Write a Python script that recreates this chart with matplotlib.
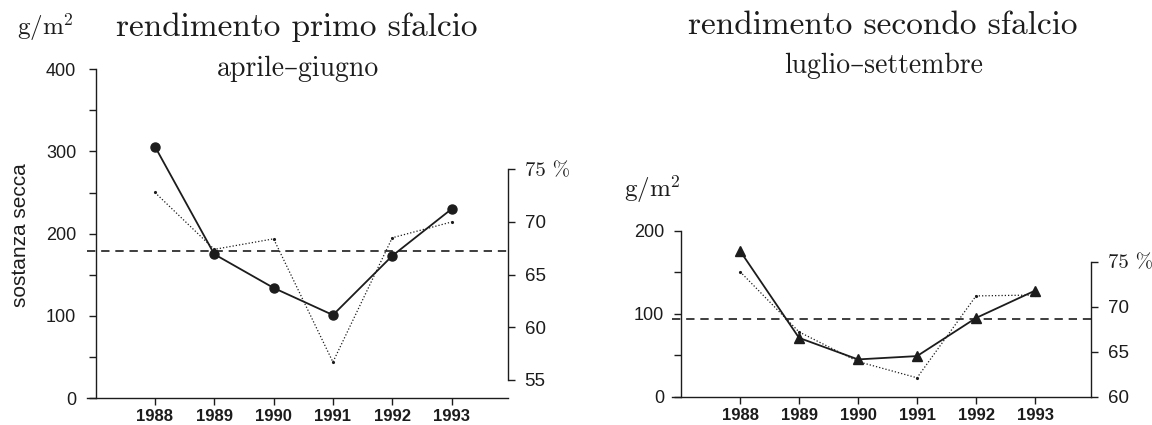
"""rendimento primo / secondo sfalcio, 1988-1993.

two panels, same layout:
  - solid line + markers: sostanza secca (g/m2, left axis)
  - dotted line: percentuale (short right axis)
  - dashed line: reference level across the panel (left-axis units)
"""
import matplotlib
matplotlib.use("Agg")
import matplotlib.pyplot as plt
from matplotlib.ticker import FixedLocator

plt.rcParams["font.family"] = ["Liberation Sans", "DejaVu Sans"]
plt.rcParams["mathtext.fontset"] = "cm"

SERIF = ["cmr10", "DejaVu Serif"]
INK = "#1c1c1c"

YEARS = [1988, 1989, 1990, 1991, 1992, 1993]

# primo sfalcio (aprile-giugno)
YIELD_1 = [306, 175, 134, 101, 173, 230]
PCT_1 = [72.8, 67.4, 68.4, 56.7, 68.5, 70.0]
REF_1 = 179

# secondo sfalcio (luglio-settembre)
YIELD_2 = [176, 71, 45, 49, 95, 128]
PCT_2 = [73.9, 67.2, 63.9, 62.1, 71.2, 71.3]
REF_2 = 94

TITLES = ["rendimento primo sfalcio", "rendimento secondo sfalcio"]
SUBTITLES = ["aprile\u2013giugno", "luglio\u2013settembre"]

# per-panel axis setup
LEFT_TICKS = [[0, 100, 200, 300, 400], [0, 100, 200]]
LEFT_MINOR = [[50, 150, 250, 350], [50, 150]]
PCT_TICKS = [[55, 60, 65, 70, 75], [60, 65, 70, 75]]
PCT_LIM = [(53.29, 84.49), (60.0, 96.83)]
MARKERS = ["o", "^"]


def drawPanel(fig, rect, i, yields, pcts, ref):
    ax = fig.add_axes(rect)
    ax.set_xlim(1986.85, 1993.95)
    ax.set_ylim(0, 400)

    ax.axhline(ref, color=INK, lw=1.2, ls=(0, (5, 3.5)), zorder=1)
    ax.plot(YEARS, yields, color=INK, lw=1.3, marker=MARKERS[i],
            ms=6.5 if i == 0 else 7, zorder=3)

    for s in ("top", "right"):
        ax.spines[s].set_visible(False)
    ax.spines["left"].set_position(("data", 1987))
    ax.spines["left"].set_bounds(0, LEFT_TICKS[i][-1])
    for s in ("left", "bottom"):
        ax.spines[s].set_linewidth(1.0)
        ax.spines[s].set_color(INK)

    ax.set_xticks(YEARS)
    ax.set_xticklabels([str(y) for y in YEARS], fontweight="bold",
                       fontsize=12)
    ax.yaxis.set_major_locator(FixedLocator(LEFT_TICKS[i]))
    ax.yaxis.set_minor_locator(FixedLocator(LEFT_MINOR[i]))
    ax.tick_params(axis="y", which="major", labelsize=13, length=5,
                   width=1.0, color=INK, labelcolor=INK,
                   pad=9 if i == 0 else 7)
    ax.tick_params(axis="y", which="minor", length=5, width=1.0, color=INK)
    ax.tick_params(axis="x", length=5, width=1.0, color=INK,
                   labelcolor=INK, pad=3)

    # percent axis: short spine at the right edge
    tw = ax.twinx()
    tw.set_ylim(*PCT_LIM[i])
    tw.plot(YEARS, pcts, color=INK, lw=0.9, ls=(0, (1, 1.6)),
            marker=".", ms=2.5, zorder=2)
    for s in ("top", "left", "bottom"):
        tw.spines[s].set_visible(False)
    tw.spines["right"].set_bounds(PCT_TICKS[i][0], PCT_TICKS[i][-1])
    tw.spines["right"].set_linewidth(1.0)
    tw.spines["right"].set_color(INK)
    tw.set_yticks(PCT_TICKS[i])
    tw.set_yticklabels([str(t) for t in PCT_TICKS[i][:-1]] + ["75 %"])
    tw.tick_params(axis="y", labelsize=13.5, length=5, width=1.0,
                   color=INK, labelcolor=INK, pad=7)
    top = tw.get_yticklabels()[-1]
    top.set_fontfamily(SERIF)
    top.set_fontsize(15)
    return ax


def main():
    fig = plt.figure(figsize=(11.52, 4.25), dpi=100)

    drawPanel(fig, [0.0753, 0.0635, 0.3656, 0.7734], 0,
              YIELD_1, PCT_1, REF_1)
    drawPanel(fig, [0.5835, 0.0666, 0.3636, 0.7798], 1,
              YIELD_2, PCT_2, REF_2)

    # titles and units (serif, as in the original)
    fig.text(0.258, 0.915, TITLES[0], family=SERIF, fontsize=24,
             ha="center", va="baseline", color=INK)
    fig.text(0.259, 0.821, SUBTITLES[0], family=SERIF, fontsize=20,
             ha="center", va="baseline", color=INK)
    fig.text(0.766, 0.920, TITLES[1], family=SERIF, fontsize=24,
             ha="center", va="baseline", color=INK)
    fig.text(0.767, 0.828, SUBTITLES[1], family=SERIF, fontsize=20,
             ha="center", va="baseline", color=INK)
    fig.text(0.0145, 0.917, r"$\mathrm{g/m^2}$", fontsize=18,
             ha="left", va="baseline", color=INK)
    fig.text(0.5417, 0.536, r"$\mathrm{g/m^2}$", fontsize=18,
             ha="left", va="baseline", color=INK)
    fig.text(0.0175, 0.447, "sostanza secca", rotation=90, fontsize=15,
             ha="center", va="center", color=INK)

    fig.savefig("out.png", dpi=100)
    plt.close(fig)


if __name__ == "__main__":
    main()
